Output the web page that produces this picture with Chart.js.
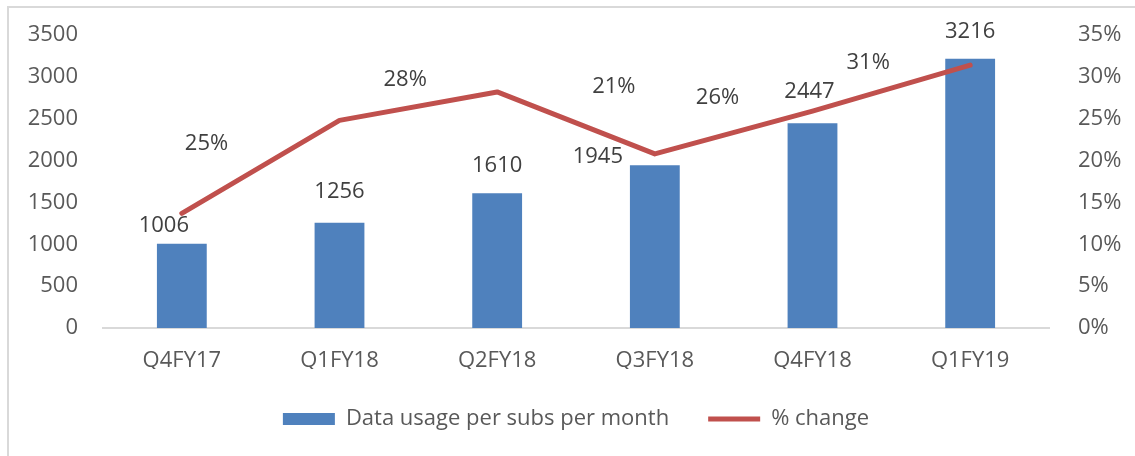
<!DOCTYPE html>
<html lang="en">
<head>
<meta charset="UTF-8">
<title>Data usage per subs per month</title>
<script src="https://cdn.jsdelivr.net/npm/chart.js"></script>
<style>
  html, body { margin: 0; padding: 0; background: #fff; }
  .frame { position: absolute; left: 0; top: 0; width: 1135px; height: 456px; overflow: hidden; }
  .border { position: absolute; left: 7px; top: 6px; width: 1200px; height: 500px; border: 2px solid #d9d9d9; box-sizing: border-box; }
  canvas { position: absolute; left: 0; top: 0; }
</style>
</head>
<body>
<div class="frame">
  <div class="border"></div>
  <canvas id="chart" width="1135" height="456"></canvas>
</div>
<script>
// data
const quarters = ['Q4FY17', 'Q1FY18', 'Q2FY18', 'Q3FY18', 'Q4FY18', 'Q1FY19'];
const dataUsage = [1006, 1256, 1610, 1945, 2447, 3216];
const pctChange = [13.7, 24.8, 28.2, 20.8, 25.9, 31.4];
const pctLabels = ['', '25%', '28%', '21%', '26%', '31%'];
const usageMax = 3500, usageStep = 500;
const pctMax = 35, pctStep = 5;

// hand-placed label offsets (px from the mark), as in the original
const barLabelOffsets = [[-18, -18], [0, -31], [0, -27], [-57, -8], [-3, -31], [0, -27]];
const lineLabelOffsets = [null, [-133, 23], [-92, -12], [-41, -67], [-95, -13], [-102, -2]];

const FONT = '"Open Sans", sans-serif';
Chart.defaults.font.family = FONT;
Chart.defaults.font.size = 22;
Chart.defaults.color = '#595959';

const valueLabels = {
  id: 'valueLabels',
  afterDatasetsDraw(chart) {
    const ctx = chart.ctx;
    ctx.save();
    ctx.font = '22px ' + FONT;
    ctx.fillStyle = '#404040';
    ctx.textAlign = 'center';
    ctx.textBaseline = 'middle';
    chart.getDatasetMeta(0).data.forEach((bar, i) => {
      const [dx, dy] = barLabelOffsets[i];
      ctx.fillText(String(dataUsage[i]), bar.x + dx, bar.y + dy);
    });
    chart.getDatasetMeta(1).data.forEach((pt, i) => {
      if (!lineLabelOffsets[i] || !pctLabels[i]) return;
      const [dx, dy] = lineLabelOffsets[i];
      ctx.fillText(pctLabels[i], pt.x + dx, pt.y + dy);
    });
    ctx.restore();
  }
};

// keep the y axes from pushing the plot area down
function fixSide(width) {
  return s => { s.width = width; s.paddingTop = 0; s.paddingBottom = 0; };
}

new Chart(document.getElementById('chart'), {
  data: {
    labels: quarters,
    datasets: [
      {
        type: 'bar',
        label: 'Data usage per subs per month',
        data: dataUsage,
        backgroundColor: '#4f81bd',
        categoryPercentage: 1,
        barPercentage: 0.316,
        yAxisID: 'y',
        pointStyle: 'rect',
        order: 1
      },
      {
        type: 'line',
        label: '% change',
        data: pctChange,
        borderColor: '#c0504d',
        backgroundColor: '#c0504d',
        borderWidth: 5,
        borderCapStyle: 'round',
        borderJoinStyle: 'round',
        pointRadius: 0,
        pointStyle: 'line',
        tension: 0,
        yAxisID: 'y1',
        order: 0
      }
    ]
  },
  options: {
    responsive: false,
    animation: false,
    layout: { padding: { top: 35, bottom: 16, left: 0, right: 0 } },
    plugins: {
      tooltip: { enabled: false },
      legend: {
        position: 'bottom',
        fullSize: false,
        labels: {
          usePointStyle: true,
          pointStyleWidth: 52,
          boxHeight: 12,
          padding: 39,
          color: '#595959',
          sort: (a, b) => a.datasetIndex - b.datasetIndex
        }
      }
    },
    scales: {
      x: {
        grid: { display: false, drawTicks: false },
        border: { display: true, color: '#d9d9d9', width: 2 },
        ticks: { padding: 20, color: '#595959' },
        afterFit(s) { s.height = 41; }
      },
      y: {
        position: 'left',
        min: 0,
        max: usageMax,
        ticks: { stepSize: usageStep, padding: 25, color: '#595959', callback: v => String(v) },
        grid: { display: false, drawTicks: false },
        border: { display: false },
        afterFit: fixSide(103)
      },
      y1: {
        position: 'right',
        min: 0,
        max: pctMax,
        ticks: { stepSize: pctStep, padding: 29, color: '#595959', callback: v => v + '%' },
        grid: { display: false, drawTicks: false },
        border: { display: false },
        afterFit: fixSide(86)
      }
    }
  },
  plugins: [valueLabels]
});
</script>
</body>
</html>
